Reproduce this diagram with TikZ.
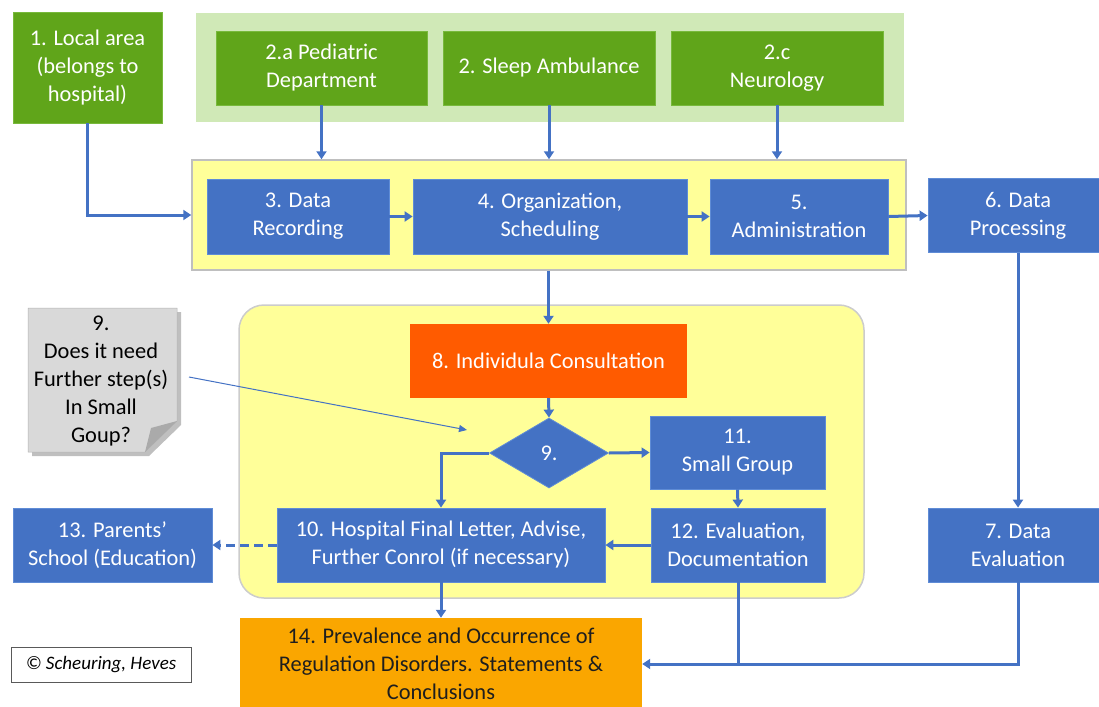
\documentclass[tikz,border=0pt]{standalone}
\usepackage{fontspec}
\setmainfont{Carlito}
\usetikzlibrary{shapes.geometric,arrows.meta}
\definecolor{bx}{RGB}{68,114,196}
\definecolor{bxb}{RGB}{95,140,214}
\definecolor{grn}{RGB}{96,165,26}
\definecolor{grnb}{RGB}{120,185,60}
\definecolor{grnbg}{RGB}{208,233,183}
\definecolor{ylw}{RGB}{255,255,153}
\definecolor{org}{RGB}{255,91,0}
\definecolor{amb}{RGB}{250,166,0}
\definecolor{notec}{RGB}{217,217,217}
\definecolor{notef}{RGB}{170,170,170}
\definecolor{arr}{RGB}{68,114,196}
\definecolor{dtxt}{RGB}{30,30,30}
\begin{document}
\begin{tikzpicture}[x=1pt,y=-1pt,
  every node/.style={font=\fontsize{22.4}{28}\selectfont, align=center, inner sep=0pt},
  bluebox/.style={rectangle, fill=bx, draw=bxb, line width=0.8pt, text=white},
  greenbox/.style={rectangle, fill=grn, draw=grnb, line width=0.8pt, text=white},
  arrow/.style={draw=arr, line width=3pt, -{Triangle[width=10pt,length=8pt]}},
  plainline/.style={draw=arr, line width=3pt},
]
\useasboundingbox (0,0) rectangle (1099,706);

% backgrounds
\node[fill=grnbg, minimum width=708pt, minimum height=109pt] (g1) at (550,67.5) {};
\node[fill=ylw, draw=gray!50, line width=1.5pt, minimum width=714pt, minimum height=110pt] (y1) at (549,215) {};
\node[fill=ylw, draw=gray!40, line width=1.5pt, rounded corners=25pt, minimum width=625pt, minimum height=293pt] (y2) at (551.5,451.5) {};

% top row
\node[greenbox, minimum width=149pt, minimum height=111pt] (n1) at (87.5,67.5) {1. Local area\\(belongs to\\hospital)};
\node[greenbox, minimum width=211pt, minimum height=74pt] (n2a) at (321.5,68) {2.a Pediatric\\Department};
\node[greenbox, minimum width=212pt, minimum height=74pt] (n2b) at (549,68) {2. Sleep Ambulance};
\node[greenbox, minimum width=212pt, minimum height=74pt] (n2c) at (777,68) {2.c\\Neurology};

% second row
\node[bluebox, minimum width=182pt, minimum height=75pt] (n3) at (298,216.5) {3. Data\\Recording};
\node[bluebox, minimum width=274pt, minimum height=75pt] (n4) at (550,216.5) {4. Organization,\\Scheduling};
\node[bluebox, minimum width=178pt, minimum height=75pt] (n5) at (799,216.5) {5.\\Administration};
\node[bluebox, minimum width=180pt, minimum height=74pt] (n6) at (1018,215.5) {6. Data\\Processing};

% middle
\node[rectangle, fill=org, text=white, minimum width=277pt, minimum height=74pt] (n8) at (548.5,361) {8. Individula Consultation};
\node[diamond, fill=bx, draw=bxb, line width=0.8pt, text=white, minimum width=119pt, minimum height=70pt] (d9) at (549,453) {9.};
\node[bluebox, minimum width=175pt, minimum height=73pt] (n11) at (737.5,452.5) {11.\\Small Group};
\node[bluebox, minimum width=174pt, minimum height=74pt] (n12) at (738,545) {12. Evaluation,\\Documentation};
\node[bluebox, minimum width=328pt, minimum height=74pt] (n10) at (441,545) {10. Hospital Final Letter, Advise,\\Further Conrol (if necessary)};
\node[bluebox, minimum width=199pt, minimum height=74pt] (n13) at (112.5,545) {13. Parents’\\School (Education)};
\node[bluebox, minimum width=180pt, minimum height=74pt] (n7) at (1018,545) {7. Data\\Evaluation};

% bottom
\node[rectangle, fill=amb, text=dtxt, minimum width=402pt, minimum height=92pt] (n14) at (441,664) {14. Prevalence and Occurrence of\\Regulation Disorders. Statements \&\\Conclusions};
\node[rectangle, draw=gray!70!black, line width=1pt, fill=white, minimum width=180pt, minimum height=35pt, font=\fontsize{19}{22}\selectfont\itshape] (cr) at (101,664.5) {© Scheuring, Heves};

% note
\fill[black, opacity=0.25] (32,312) -- (181,312) -- (181,425) -- (149,456) -- (32,456) -- cycle;
\fill[notec, draw=gray!60, line width=0.5pt] (28,308) -- (177,308) -- (177,421) -- (145,452) -- (28,452) -- cycle;
\fill[notef] (145,452) -- (151,428) -- (177,421) -- cycle;
\node[text=black] (note) at (101,381.5) {9.\\Does it need\\Further step(s)\\In Small\\Goup?};
\coordinate (nl) at (189,377);
\coordinate (nt) at (467,430);
\draw[draw=arr, line width=1pt, -{Triangle[width=7pt,length=8pt]}] (nl) -- (nt);

% connectors
\draw[arrow] (n1.south) |- (y1.west);
\draw[arrow] (n2a.south) -- (n2a.south |- y1.north);
\draw[arrow] (n2b.south) -- (n2b.south |- y1.north);
\draw[arrow] (n2c.south) -- (n2c.south |- y1.north);
\draw[arrow] (n3.east) -- (n4.west);
\draw[arrow] (n4.east) -- (n5.west);
\draw[arrow] (n5.east) -- (n6.west);
\draw[arrow] (n8.north |- y1.south) -- (n8.north);
\draw[arrow] (n8.south) -- (d9.north);
\draw[arrow] (d9.east) -- (n11.west);
\draw[arrow] (d9.west) -| (n10.north);
\draw[arrow] (n11.south) -- (n12.north);
\draw[arrow] (n12.west) -- (n10.east);
\draw[arrow, dashed, dash pattern=on 9pt off 5pt] (n10.west) -- (n13.east);
\draw[arrow] (n10.south) -- (n14.north);
\draw[arrow] (n6.south) -- (n7.north);
\draw[arrow] (n7.south) |- (n14.east);
\draw[plainline] (n12.south) -- (n12.south |- n14.east);
\end{tikzpicture}
\end{document}
